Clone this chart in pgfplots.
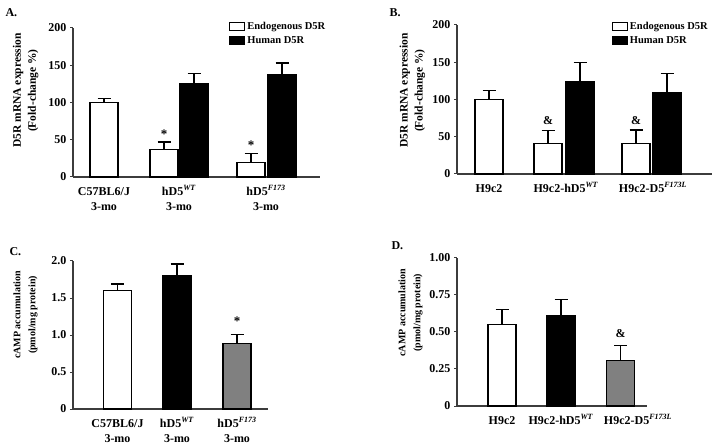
\documentclass[border=0pt]{standalone}
\usepackage{fontspec}
\setmainfont{Liberation Serif}
\usepackage{pgfplots}
\pgfplotsset{compat=1.18}

\definecolor{axgray}{RGB}{60,60,60}
\definecolor{bargray}{RGB}{128,128,128}
\newcommand{\st}{\rule{0pt}{12pt}}

\pgfplotsset{
  panel/.style={
    scale only axis,
    axis x line*=bottom, axis y line*=left,
    axis line style={axgray, line width=1.3pt},
    ymin=0, clip=false,
    ybar, bar width=28, bar shift=0pt,
    tick align=outside, major tick length=3pt,
    ytick style={axgray, line width=1pt},
    xtick style={draw=none},
    /pgf/number format/assume math mode=true,
    tick label style={font=\bfseries\fontsize{12}{15}\selectfont},
    xticklabel style={align=center, anchor=north, inner sep=1pt, yshift=-2pt},
    ylabel style={font=\bfseries\fontsize{11.5}{15}\selectfont, align=center},
    error bars/y dir=plus, error bars/y explicit,
    error bars/error bar style={black, line width=1.2pt},
    error bars/error mark options={black, line width=1.2pt, mark size=6.5pt, rotate=90},
    legend style={draw=none, fill=none, font=\bfseries\fontsize{10.5}{12}\selectfont,
      row sep=1pt, anchor=north west},
    legend cell align=left,
    legend image code/.code={\draw[#1, line width=1pt] (0pt,-4pt) rectangle (15pt,4pt);},
  },
  wbar/.style={draw=black, fill=white, line width=1.2pt},
  bbar/.style={draw=black, fill=black, line width=1.2pt},
  gbar/.style={draw=black, fill=bargray, line width=1.2pt},
}

\begin{document}
\begin{tikzpicture}
\useasboundingbox (0pt,0pt) rectangle (714pt,444pt);

% Panel A
\begin{axis}[panel, at={(73pt,267pt)}, anchor=south west,
  width=247pt, height=149pt, xmin=73, xmax=320, ymax=200,
  ytick={0,50,100,150,200},
  xtick={104,179,266},
  xticklabels={\st C57BL6/J\\3-mo, \st hD5\textsuperscript{\textit{WT}}\\3-mo, \st hD5\textsuperscript{\textit{F173}}\\3-mo},
  ylabel={D5R mRNA expression\\(Fold-change \%)},
  ylabel style={at={(rel axis cs:-0.192,0.58)}, anchor=center},
  legend style={at={(0.62,1.065)}},
]
\addplot[wbar] coordinates {(104,100) +- (0,5) (164,37) +- (0,10) (251,19) +- (0,13)};
\addlegendentry{Endogenous D5R}
\addplot[bbar] coordinates {(194,125) +- (0,14) (282,138) +- (0,15)};
\addlegendentry{Human D5R}
\node[font=\bfseries\fontsize{13}{13}\selectfont] at (axis cs:164,58) {*};
\node[font=\bfseries\fontsize{13}{13}\selectfont] at (axis cs:251,43) {*};
\end{axis}

% Panel B
\begin{axis}[panel, at={(457pt,270pt)}, anchor=south west,
  width=255pt, height=149pt, xmin=457, xmax=712, ymax=200,
  ytick={0,50,100,150,200},
  xtick={489,566,653},
  xticklabels={\st H9c2, \st H9c2-hD5\textsuperscript{\textit{WT}}, \st H9c2-D5\textsuperscript{\textit{F173L}}},
  ylabel={D5R mRNA expression\\(Fold-change \%)},
  ylabel style={at={(rel axis cs:-0.175,0.56)}, anchor=center},
  legend style={at={(0.595,1.045)}},
]
\addplot[wbar] coordinates {(489,100) +- (0,12) (548,41) +- (0,17) (636,41) +- (0,18)};
\addlegendentry{Endogenous D5R}
\addplot[bbar] coordinates {(580,124) +- (0,26) (667,109) +- (0,26)};
\addlegendentry{Human D5R}
\node[font=\bfseries\fontsize{12}{12}\selectfont] at (axis cs:548,72) {\&};
\node[font=\bfseries\fontsize{12}{12}\selectfont] at (axis cs:636,72) {\&};
\end{axis}

% Panel C
\begin{axis}[panel, at={(73pt,35pt)}, anchor=south west,
  width=195pt, height=148pt, xmin=73, xmax=268, ymax=2,
  ytick={0,0.5,1,1.5,2},
  yticklabels={0,0.5,1.0,1.5,2.0},
  xtick={117.5,177,237},
  xticklabels={\st C57BL6/J\\3-mo, \st hD5\textsuperscript{\textit{WT}}\\3-mo, \st hD5\textsuperscript{\textit{F173}}\\3-mo},
  ylabel={cAMP accumulation\\(pmol/mg protein)},
  ylabel style={font=\bfseries\fontsize{10}{15}\selectfont, at={(rel axis cs:-0.244,0.635)}, anchor=center},
]
\addplot[wbar] coordinates {(117.5,1.6) +- (0,0.09)};
\addplot[bbar] coordinates {(177,1.8) +- (0,0.16)};
\addplot[gbar] coordinates {(237,0.89) +- (0,0.12)};
\node[font=\bfseries\fontsize{13}{13}\selectfont] at (axis cs:237,1.19) {*};
\end{axis}

% Panel D
\begin{axis}[panel, at={(457pt,38pt)}, anchor=south west,
  width=190pt, height=148pt, xmin=457, xmax=647, ymax=1,
  ytick={0,0.25,0.5,0.75,1},
  yticklabels={0,0.25,0.50,0.75,1.00},
  xtick={502,561,638},
  xticklabels={\st H9c2, \st H9c2-hD5\textsuperscript{\textit{WT}}, \st H9c2-D5\textsuperscript{\textit{F173L}}},
  ylabel={cAMP accumulation\\(pmol/mg protein)},
  ylabel style={font=\bfseries\fontsize{10}{15}\selectfont, at={(rel axis cs:-0.245,0.63)}, anchor=center},
]
\addplot[wbar] coordinates {(502,0.55) +- (0,0.10)};
\addplot[bbar] coordinates {(561,0.61) +- (0,0.11)};
\addplot[gbar] coordinates {(620.5,0.31) +- (0,0.10)};
\node[font=\bfseries\fontsize{12}{12}\selectfont] at (axis cs:620.5,0.49) {\&};
\end{axis}

\node[font=\bfseries\fontsize{12}{12}\selectfont, anchor=west] at (2pt,431pt) {A.};
\node[font=\bfseries\fontsize{12}{12}\selectfont, anchor=west] at (386pt,431pt) {B.};
\node[font=\bfseries\fontsize{12}{12}\selectfont, anchor=west] at (6pt,192pt) {C.};
\node[font=\bfseries\fontsize{12}{12}\selectfont, anchor=west] at (388pt,198pt) {D.};
\end{tikzpicture}
\end{document}
